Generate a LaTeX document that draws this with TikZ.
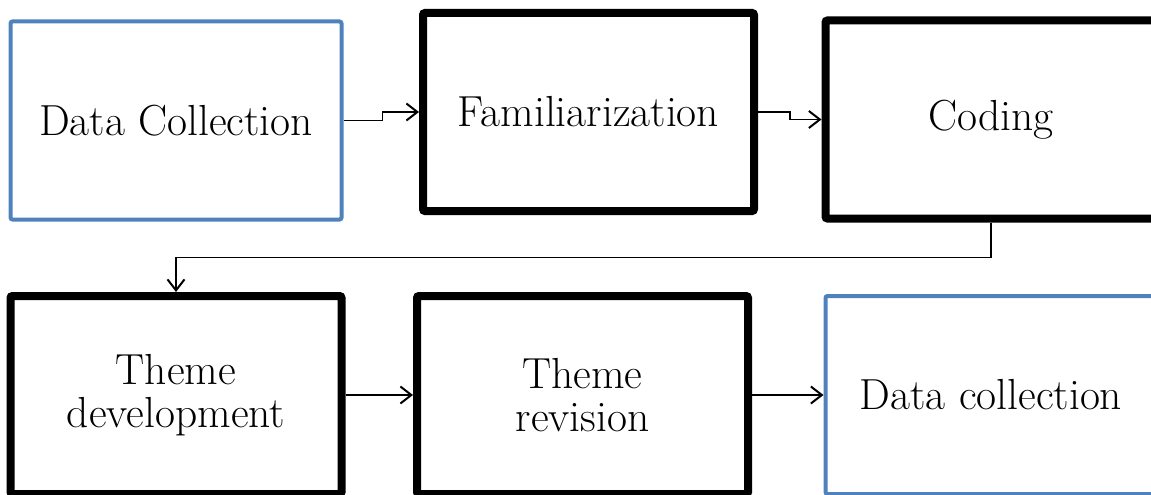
\documentclass[tikz,border=0pt]{standalone}
\usetikzlibrary{arrows.meta}

\definecolor{boxblue}{HTML}{4F81BD}

\tikzset{
  stagebox/.style={draw=black, line width=8pt, rounded corners=2pt,
    minimum width=331pt, minimum height=198pt, align=center,
    font=\fontsize{43.5}{43}\selectfont},
  databox/.style={stagebox, draw=boxblue, line width=4pt},
  >={Straight Barb[length=11pt,width=17pt,line width=2pt]},
  flow/.style={->, line width=1.6pt}
}

\begin{document}
\begin{tikzpicture}[x=1pt,y=-1pt]
            \clip (0,0) rectangle (1151,495);

            \node[databox] (dc) at (176,120.5) {Data Collection};
            \node[stagebox] (fam) at (588.5,112) {Familiarization};
            \node[stagebox] (cod) at (991,119.5) {Coding};
            \node[stagebox] (thdev) at (176,395) {Theme\\development};
            \node[stagebox] (threv) at (582.5,395) {Theme\\revision};
            \node[databox] (dc2) at (991,395) {Data collection};

            \draw[flow] (dc.east) -- ++(39,0) |- (fam.west);
            \draw[flow] (fam.east) -- ++(32,0) |- (cod.west);
            \draw[flow] (cod.south) -- ++(0,35) -| (thdev.north);
            \draw[flow] (thdev.east) to (threv.west);
            \draw[flow] (threv.east) to (dc2.west);
        \end{tikzpicture}
\end{document}
